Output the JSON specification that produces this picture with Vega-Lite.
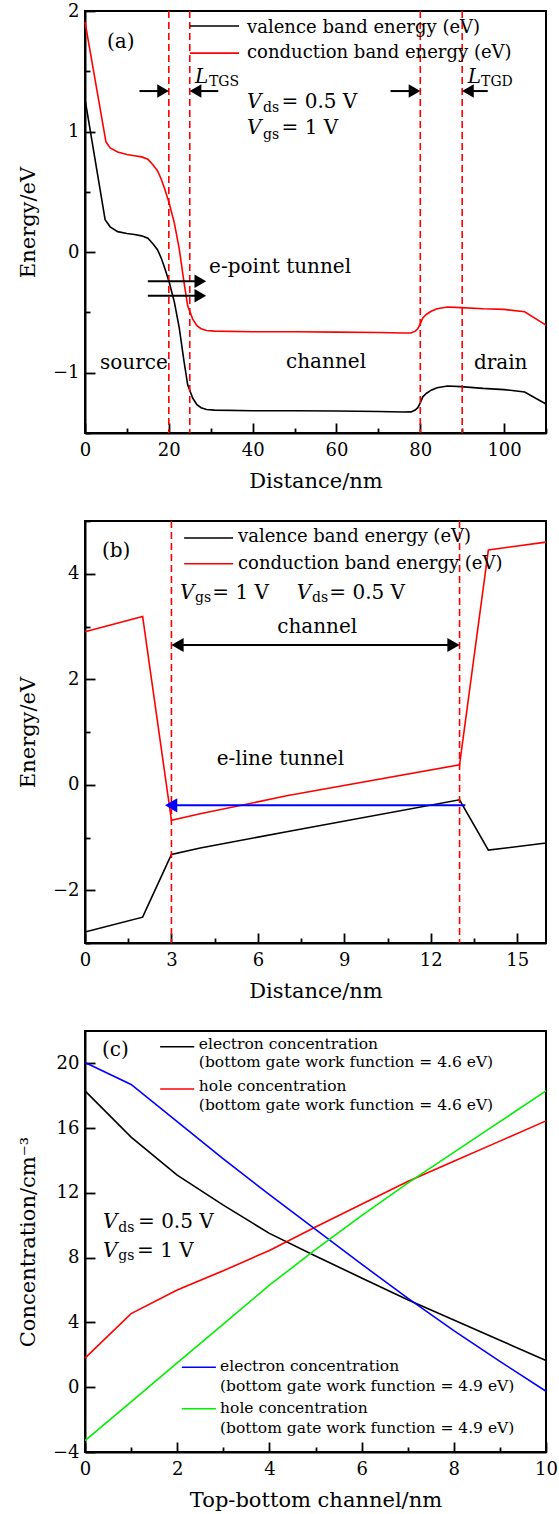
{
  "$schema": "https://vega.github.io/schema/vega-lite/v6.json",
  "background": "white",
  "padding": {"left": 16, "top": 1, "right": 0, "bottom": 0},
  "config": {
    "view": {"stroke": "black", "strokeWidth": 2},
    "axis": {
      "domainColor": "black", "domainWidth": 2,
      "tickColor": "black", "tickWidth": 1.8,
      "labelFont": "DejaVu Serif", "labelFontSize": 18, "labelColor": "black",
      "titleFont": "DejaVu Serif", "titleFontSize": 21, "titleFontWeight": "normal", "titleColor": "black",
      "grid": false, "labelFlush": false, "labelOverlap": false, "labelBound": false, "format": "d"
    },
    "text": {"font": "DejaVu Serif", "color": "black"}
  },
  "resolve": {"scale": {"color": "independent", "shape": "independent"}},
  "datasets": {
    "a_bands": [
      {"x": 0, "y": 1.27, "band": "valence"}, {"x": 4.8, "y": 0.27, "band": "valence"}, {"x": 6, "y": 0.21, "band": "valence"},
      {"x": 7.8, "y": 0.17, "band": "valence"}, {"x": 10, "y": 0.155, "band": "valence"}, {"x": 11.8, "y": 0.147, "band": "valence"},
      {"x": 13.5, "y": 0.135, "band": "valence"}, {"x": 15, "y": 0.115, "band": "valence"}, {"x": 16.2, "y": 0.07, "band": "valence"},
      {"x": 17.3, "y": 0.02, "band": "valence"}, {"x": 18.2, "y": -0.05, "band": "valence"}, {"x": 19, "y": -0.13, "band": "valence"},
      {"x": 20.1, "y": -0.25, "band": "valence"}, {"x": 21.3, "y": -0.41, "band": "valence"}, {"x": 22.5, "y": -0.63, "band": "valence"},
      {"x": 23.6, "y": -0.9, "band": "valence"}, {"x": 24.5, "y": -1.1, "band": "valence"}, {"x": 25.7, "y": -1.21, "band": "valence"},
      {"x": 26.7, "y": -1.265, "band": "valence"}, {"x": 27.7, "y": -1.29, "band": "valence"}, {"x": 29, "y": -1.305, "band": "valence"},
      {"x": 30.9, "y": -1.31, "band": "valence"}, {"x": 40, "y": -1.315, "band": "valence"}, {"x": 50, "y": -1.315, "band": "valence"},
      {"x": 60, "y": -1.318, "band": "valence"}, {"x": 70, "y": -1.322, "band": "valence"}, {"x": 76, "y": -1.326, "band": "valence"},
      {"x": 77.8, "y": -1.325, "band": "valence"}, {"x": 78.8, "y": -1.31, "band": "valence"}, {"x": 79.4, "y": -1.29, "band": "valence"},
      {"x": 80.0, "y": -1.25, "band": "valence"}, {"x": 80.6, "y": -1.2, "band": "valence"}, {"x": 81.5, "y": -1.17, "band": "valence"},
      {"x": 82.6, "y": -1.145, "band": "valence"}, {"x": 84, "y": -1.125, "band": "valence"}, {"x": 86.5, "y": -1.11, "band": "valence"},
      {"x": 89.7, "y": -1.115, "band": "valence"}, {"x": 95, "y": -1.13, "band": "valence"}, {"x": 100, "y": -1.14, "band": "valence"},
      {"x": 104.9, "y": -1.16, "band": "valence"}, {"x": 110, "y": -1.26, "band": "valence"},
      {"x": 0, "y": 1.91, "band": "conduction"}, {"x": 5.0, "y": 0.915, "band": "conduction"}, {"x": 6, "y": 0.865, "band": "conduction"},
      {"x": 7.8, "y": 0.83, "band": "conduction"}, {"x": 10, "y": 0.81, "band": "conduction"}, {"x": 11.8, "y": 0.8, "band": "conduction"},
      {"x": 13.5, "y": 0.79, "band": "conduction"}, {"x": 15, "y": 0.77, "band": "conduction"}, {"x": 16.2, "y": 0.725, "band": "conduction"},
      {"x": 17.3, "y": 0.675, "band": "conduction"}, {"x": 18.2, "y": 0.605, "band": "conduction"}, {"x": 19, "y": 0.525, "band": "conduction"},
      {"x": 20.1, "y": 0.405, "band": "conduction"}, {"x": 21.3, "y": 0.245, "band": "conduction"}, {"x": 22.5, "y": 0.025, "band": "conduction"},
      {"x": 23.6, "y": -0.245, "band": "conduction"}, {"x": 24.5, "y": -0.445, "band": "conduction"}, {"x": 25.7, "y": -0.555, "band": "conduction"},
      {"x": 26.7, "y": -0.61, "band": "conduction"}, {"x": 27.7, "y": -0.635, "band": "conduction"}, {"x": 29, "y": -0.65, "band": "conduction"},
      {"x": 30.9, "y": -0.655, "band": "conduction"}, {"x": 40, "y": -0.66, "band": "conduction"}, {"x": 50, "y": -0.66, "band": "conduction"},
      {"x": 60, "y": -0.663, "band": "conduction"}, {"x": 70, "y": -0.667, "band": "conduction"}, {"x": 76, "y": -0.671, "band": "conduction"},
      {"x": 77.8, "y": -0.67, "band": "conduction"}, {"x": 78.8, "y": -0.655, "band": "conduction"}, {"x": 79.4, "y": -0.635, "band": "conduction"},
      {"x": 80.0, "y": -0.595, "band": "conduction"}, {"x": 80.6, "y": -0.545, "band": "conduction"}, {"x": 81.5, "y": -0.515, "band": "conduction"},
      {"x": 82.6, "y": -0.49, "band": "conduction"}, {"x": 84, "y": -0.47, "band": "conduction"}, {"x": 86.5, "y": -0.455, "band": "conduction"},
      {"x": 89.7, "y": -0.46, "band": "conduction"}, {"x": 95, "y": -0.47, "band": "conduction"}, {"x": 100, "y": -0.475, "band": "conduction"},
      {"x": 104.9, "y": -0.495, "band": "conduction"}, {"x": 110, "y": -0.605, "band": "conduction"}
    ],
    "a_vlines": [{"x": 20}, {"x": 25}, {"x": 80}, {"x": 90}],
    "a_legline": [
      {"x": 25.06, "x2": 36.75, "y": 1.876, "band": "valence"},
      {"x": 25.06, "x2": 36.75, "y": 1.651, "band": "conduction"}
    ],
    "a_legtext": [
      {"x": 38.66, "y": 1.82, "text": "valence band energy (eV)"},
      {"x": 38.66, "y": 1.607, "text": "conduction band energy (eV)"}
    ],
    "a_text": [
      {"x": 5.25, "y": 1.693, "text": "(a)"},
      {"x": 29.6, "y": -0.172, "text": "e-point tunnel"},
      {"x": 3.58, "y": -0.973, "text": "source"},
      {"x": 47.97, "y": -0.96, "text": "channel"},
      {"x": 92.8, "y": -0.973, "text": "drain"},
      {"x": 46.9, "y": 1.197, "text": "= 0.5 V"},
      {"x": 46.9, "y": 0.977, "text": "= 1 V"}
    ],
    "a_ital": [
      {"x": 38.66, "y": 1.197, "text": "V"},
      {"x": 38.66, "y": 0.977, "text": "V"},
      {"x": 26.25, "y": 1.405, "text": "L"},
      {"x": 91.34, "y": 1.405, "text": "L"}
    ],
    "a_sub": [
      {"x": 42.48, "y": 1.162, "text": "ds"},
      {"x": 42.48, "y": 0.942, "text": "gs"},
      {"x": 29.59, "y": 1.378, "text": "TGS"},
      {"x": 94.5, "y": 1.378, "text": "TGD"}
    ],
    "a_shafts": [
      {"x": 13.0, "x2": 19.0, "y": 1.336},
      {"x": 31.8, "x2": 26.0, "y": 1.336},
      {"x": 72.9, "x2": 79.0, "y": 1.336},
      {"x": 96.1, "x2": 91.0, "y": 1.336},
      {"x": 15.0, "x2": 27.5, "y": -0.241},
      {"x": 15.0, "x2": 27.5, "y": -0.362}
    ],
    "a_heads": [
      {"x": 18.62, "y": 1.336, "dir": "right"},
      {"x": 26.38, "y": 1.336, "dir": "left"},
      {"x": 78.62, "y": 1.336, "dir": "right"},
      {"x": 91.38, "y": 1.336, "dir": "left"},
      {"x": 27.52, "y": -0.241, "dir": "right"},
      {"x": 27.52, "y": -0.362, "dir": "right"}
    ],
    "b_bands": [
      {"x": 0, "y": -2.79, "band": "valence"}, {"x": 2, "y": -2.51, "band": "valence"}, {"x": 3, "y": -1.32, "band": "valence"},
      {"x": 4, "y": -1.2, "band": "valence"}, {"x": 7, "y": -0.89, "band": "valence"}, {"x": 13, "y": -0.285, "band": "valence"},
      {"x": 14, "y": -1.24, "band": "valence"}, {"x": 16, "y": -1.105, "band": "valence"},
      {"x": 0, "y": 2.9, "band": "conduction"}, {"x": 2, "y": 3.19, "band": "conduction"}, {"x": 3, "y": -0.675, "band": "conduction"},
      {"x": 4, "y": -0.55, "band": "conduction"}, {"x": 7, "y": -0.21, "band": "conduction"}, {"x": 13, "y": 0.38, "band": "conduction"},
      {"x": 14, "y": 4.45, "band": "conduction"}, {"x": 16, "y": 4.6, "band": "conduction"}
    ],
    "b_vlines": [{"x": 3}, {"x": 13}],
    "b_legline": [
      {"x": 3.44, "x2": 5.14, "y": 4.677, "band": "valence"},
      {"x": 3.44, "x2": 5.14, "y": 4.19, "band": "conduction"}
    ],
    "b_legtext": [
      {"x": 5.31, "y": 4.6, "text": "valence band energy (eV)"},
      {"x": 5.31, "y": 4.095, "text": "conduction band energy (eV)"}
    ],
    "b_text": [
      {"x": 0.59, "y": 4.317, "text": "(b)"},
      {"x": 4.42, "y": 3.526, "text": "= 1 V"},
      {"x": 8.48, "y": 3.526, "text": "= 0.5 V"},
      {"x": 6.67, "y": 2.88, "text": "channel"},
      {"x": 4.57, "y": 0.379, "text": "e-line tunnel"}
    ],
    "b_ital": [
      {"x": 3.3, "y": 3.526, "text": "V"},
      {"x": 7.35, "y": 3.526, "text": "V"}
    ],
    "b_sub": [
      {"x": 3.82, "y": 3.46, "text": "gs"},
      {"x": 7.88, "y": 3.46, "text": "ds"}
    ],
    "b_shafts": [{"x": 3.2, "x2": 12.8, "y": 2.65}],
    "b_heads": [
      {"x": 3.21, "y": 2.65, "dir": "left"},
      {"x": 12.79, "y": 2.65, "dir": "right"}
    ],
    "b_tunnel": [{"x": 13.2, "x2": 3.0, "y": -0.39}],
    "b_tunnelhead": [{"x": 2.99, "y": -0.39, "dir": "left"}],
    "c_lines": [
      {"x": 0, "y": 18.3, "s": "e46"}, {"x": 1, "y": 15.45, "s": "e46"}, {"x": 2, "y": 13.1, "s": "e46"}, {"x": 3, "y": 11.25, "s": "e46"},
      {"x": 4, "y": 9.5, "s": "e46"}, {"x": 5, "y": 8.1, "s": "e46"}, {"x": 6, "y": 6.75, "s": "e46"}, {"x": 7, "y": 5.4, "s": "e46"},
      {"x": 8, "y": 4.15, "s": "e46"}, {"x": 9, "y": 2.9, "s": "e46"}, {"x": 10, "y": 1.65, "s": "e46"},
      {"x": 0, "y": 1.8, "s": "h46"}, {"x": 1, "y": 4.55, "s": "h46"}, {"x": 2, "y": 6.0, "s": "h46"}, {"x": 3, "y": 7.2, "s": "h46"},
      {"x": 4, "y": 8.45, "s": "h46"}, {"x": 5, "y": 9.9, "s": "h46"}, {"x": 6, "y": 11.3, "s": "h46"}, {"x": 7, "y": 12.7, "s": "h46"},
      {"x": 8, "y": 13.95, "s": "h46"}, {"x": 9, "y": 15.2, "s": "h46"}, {"x": 10, "y": 16.45, "s": "h46"},
      {"x": 0, "y": 20.05, "s": "e49"}, {"x": 1, "y": 18.7, "s": "e49"}, {"x": 2, "y": 16.4, "s": "e49"}, {"x": 3, "y": 14.1, "s": "e49"},
      {"x": 4, "y": 11.9, "s": "e49"}, {"x": 5, "y": 9.75, "s": "e49"}, {"x": 6, "y": 7.6, "s": "e49"}, {"x": 7, "y": 5.5, "s": "e49"},
      {"x": 8, "y": 3.5, "s": "e49"}, {"x": 9, "y": 1.6, "s": "e49"}, {"x": 10, "y": -0.25, "s": "e49"},
      {"x": 0, "y": -3.3, "s": "h49"}, {"x": 1, "y": -0.9, "s": "h49"}, {"x": 2, "y": 1.5, "s": "h49"}, {"x": 3, "y": 3.9, "s": "h49"},
      {"x": 4, "y": 6.3, "s": "h49"}, {"x": 5, "y": 8.5, "s": "h49"}, {"x": 6, "y": 10.6, "s": "h49"}, {"x": 7, "y": 12.6, "s": "h49"},
      {"x": 8, "y": 14.5, "s": "h49"}, {"x": 9, "y": 16.4, "s": "h49"}, {"x": 10, "y": 18.3, "s": "h49"}
    ],
    "c_legline": [
      {"x": 1.63, "x2": 2.37, "y": 21.03, "s": "e46"},
      {"x": 1.63, "x2": 2.37, "y": 18.42, "s": "h46"},
      {"x": 2.1, "x2": 2.84, "y": 1.23, "s": "e49"},
      {"x": 2.1, "x2": 2.84, "y": -1.33, "s": "h49"}
    ],
    "c_legtext": [
      {"x": 2.47, "y": 20.89, "text": "electron concentration"},
      {"x": 2.47, "y": 19.75, "text": "(bottom gate work function = 4.6 eV)"},
      {"x": 2.47, "y": 18.28, "text": "hole concentration"},
      {"x": 2.47, "y": 17.15, "text": "(bottom gate work function = 4.6 eV)"},
      {"x": 2.93, "y": 0.985, "text": "electron concentration"},
      {"x": 2.93, "y": -0.246, "text": "(bottom gate work function = 4.9 eV)"},
      {"x": 2.93, "y": -1.62, "text": "hole concentration"},
      {"x": 2.93, "y": -2.81, "text": "(bottom gate work function = 4.9 eV)"}
    ],
    "c_text": [
      {"x": 0.37, "y": 20.47, "text": "(c)"},
      {"x": 1.15, "y": 9.81, "text": "= 0.5 V"},
      {"x": 1.13, "y": 8.06, "text": "= 1 V"}
    ],
    "c_ital": [
      {"x": 0.39, "y": 9.81, "text": "V"},
      {"x": 0.39, "y": 8.06, "text": "V"}
    ],
    "c_sub": [
      {"x": 0.72, "y": 9.58, "text": "ds"},
      {"x": 0.72, "y": 7.86, "text": "gs"}
    ]
  },
  "spacing": 88,
  "bounds": "flush",
  "vconcat": [
    {
      "width": 461, "height": 422,
      "layer": [
        {
          "data": {"name": "a_bands"},
          "mark": {"type": "line", "strokeWidth": 1.6},
          "encoding": {
            "x": {"field": "x", "type": "quantitative", "scale": {"domain": [0, 110], "nice": false, "zero": false},
                  "axis": {"title": "Distance/nm", "values": [0, 10, 20, 30, 40, 50, 60, 70, 80, 90, 100, 110],
                           "labelExpr": "datum.value % 20 === 0 ? datum.label : ''",
                           "tickSize": {"condition": {"test": "datum.value % 20 === 0", "value": -10}, "value": -5},
                           "labelPadding": 18, "titlePadding": 6}},
            "y": {"field": "y", "type": "quantitative", "scale": {"domain": [-1.5, 2], "nice": false, "zero": false},
                  "axis": {"title": "Energy/eV", "values": [-1.5, -1, -0.5, 0, 0.5, 1, 1.5, 2],
                           "labelExpr": "datum.value % 1 === 0 ? datum.label : ''",
                           "tickSize": {"condition": {"test": "datum.value % 1 === 0", "value": -10}, "value": -5},
                           "labelPadding": 16, "titlePadding": 14}},
            "color": {"field": "band", "type": "nominal", "scale": {"domain": ["valence", "conduction"], "range": ["#000000", "#ff0000"]}, "legend": null}
          }
        },
        {
          "data": {"name": "a_vlines"},
          "mark": {"type": "rule", "color": "#ff0000", "strokeDash": [7, 4], "strokeWidth": 1.6},
          "encoding": {"x": {"field": "x", "type": "quantitative"}}
        },
        {
          "data": {"name": "a_legline"},
          "mark": {"type": "rule", "strokeWidth": 1.6},
          "encoding": {
            "x": {"field": "x", "type": "quantitative"},
            "x2": {"field": "x2"},
            "y": {"field": "y", "type": "quantitative"},
            "color": {"field": "band", "type": "nominal", "legend": null}
          }
        },
        {
          "data": {"name": "a_shafts"},
          "mark": {"type": "rule", "strokeWidth": 2, "color": "black"},
          "encoding": {
            "x": {"field": "x", "type": "quantitative"},
            "x2": {"field": "x2"},
            "y": {"field": "y", "type": "quantitative"}
          }
        },
        {
          "data": {"name": "a_heads"},
          "mark": {"type": "point", "filled": true, "color": "black", "size": 180, "opacity": 1, "strokeWidth": 0},
          "encoding": {
            "x": {"field": "x", "type": "quantitative"},
            "y": {"field": "y", "type": "quantitative"},
            "shape": {"field": "dir", "type": "nominal", "scale": {"domain": ["right", "left"], "range": ["triangle-right", "triangle-left"]}, "legend": null}
          }
        },
        {
          "data": {"name": "a_legtext"},
          "mark": {"type": "text", "align": "left", "baseline": "alphabetic", "fontSize": 18},
          "encoding": {
            "x": {"field": "x", "type": "quantitative"},
            "y": {"field": "y", "type": "quantitative"},
            "text": {"field": "text", "type": "nominal"}
          }
        },
        {
          "data": {"name": "a_text"},
          "mark": {"type": "text", "align": "left", "baseline": "alphabetic", "fontSize": 20},
          "encoding": {
            "x": {"field": "x", "type": "quantitative"},
            "y": {"field": "y", "type": "quantitative"},
            "text": {"field": "text", "type": "nominal"}
          }
        },
        {
          "data": {"name": "a_ital"},
          "mark": {"type": "text", "align": "left", "baseline": "alphabetic", "fontSize": 20, "fontStyle": "italic"},
          "encoding": {
            "x": {"field": "x", "type": "quantitative"},
            "y": {"field": "y", "type": "quantitative"},
            "text": {"field": "text", "type": "nominal"}
          }
        },
        {
          "data": {"name": "a_sub"},
          "mark": {"type": "text", "align": "left", "baseline": "alphabetic", "fontSize": 14},
          "encoding": {
            "x": {"field": "x", "type": "quantitative"},
            "y": {"field": "y", "type": "quantitative"},
            "text": {"field": "text", "type": "nominal"}
          }
        }
      ]
    },
    {
      "width": 461, "height": 422,
      "layer": [
        {
          "data": {"name": "b_bands"},
          "mark": {"type": "line", "strokeWidth": 1.6},
          "encoding": {
            "x": {"field": "x", "type": "quantitative", "scale": {"domain": [0, 16], "nice": false, "zero": false},
                  "axis": {"title": "Distance/nm", "values": [0, 1.5, 3, 4.5, 6, 7.5, 9, 10.5, 12, 13.5, 15],
                           "labelExpr": "datum.value % 3 === 0 ? datum.label : ''",
                           "tickSize": {"condition": {"test": "datum.value % 3 === 0", "value": -10}, "value": -5},
                           "labelPadding": 18, "titlePadding": 6}},
            "y": {"field": "y", "type": "quantitative", "scale": {"domain": [-3, 5], "nice": false, "zero": false},
                  "axis": {"title": "Energy/eV", "values": [-3, -2, -1, 0, 1, 2, 3, 4, 5],
                           "labelExpr": "datum.value % 2 === 0 ? datum.label : ''",
                           "tickSize": {"condition": {"test": "datum.value % 2 === 0", "value": -10}, "value": -5},
                           "labelPadding": 16, "titlePadding": 14}},
            "color": {"field": "band", "type": "nominal", "scale": {"domain": ["valence", "conduction"], "range": ["#000000", "#ff0000"]}, "legend": null}
          }
        },
        {
          "data": {"name": "b_vlines"},
          "mark": {"type": "rule", "color": "#ff0000", "strokeDash": [7, 4], "strokeWidth": 1.6},
          "encoding": {"x": {"field": "x", "type": "quantitative"}}
        },
        {
          "data": {"name": "b_legline"},
          "mark": {"type": "rule", "strokeWidth": 1.6},
          "encoding": {
            "x": {"field": "x", "type": "quantitative"},
            "x2": {"field": "x2"},
            "y": {"field": "y", "type": "quantitative"},
            "color": {"field": "band", "type": "nominal", "legend": null}
          }
        },
        {
          "data": {"name": "b_shafts"},
          "mark": {"type": "rule", "strokeWidth": 2, "color": "black"},
          "encoding": {
            "x": {"field": "x", "type": "quantitative"},
            "x2": {"field": "x2"},
            "y": {"field": "y", "type": "quantitative"}
          }
        },
        {
          "data": {"name": "b_heads"},
          "mark": {"type": "point", "filled": true, "color": "black", "size": 200, "opacity": 1, "strokeWidth": 0},
          "encoding": {
            "x": {"field": "x", "type": "quantitative"},
            "y": {"field": "y", "type": "quantitative"},
            "shape": {"field": "dir", "type": "nominal", "scale": {"domain": ["right", "left"], "range": ["triangle-right", "triangle-left"]}, "legend": null}
          }
        },
        {
          "data": {"name": "b_tunnel"},
          "mark": {"type": "rule", "strokeWidth": 2, "color": "#0000ff"},
          "encoding": {
            "x": {"field": "x", "type": "quantitative"},
            "x2": {"field": "x2"},
            "y": {"field": "y", "type": "quantitative"}
          }
        },
        {
          "data": {"name": "b_tunnelhead"},
          "mark": {"type": "point", "filled": true, "color": "#0000ff", "size": 200, "opacity": 1, "strokeWidth": 0, "shape": "triangle-left"},
          "encoding": {
            "x": {"field": "x", "type": "quantitative"},
            "y": {"field": "y", "type": "quantitative"}
          }
        },
        {
          "data": {"name": "b_legtext"},
          "mark": {"type": "text", "align": "left", "baseline": "alphabetic", "fontSize": 18},
          "encoding": {
            "x": {"field": "x", "type": "quantitative"},
            "y": {"field": "y", "type": "quantitative"},
            "text": {"field": "text", "type": "nominal"}
          }
        },
        {
          "data": {"name": "b_text"},
          "mark": {"type": "text", "align": "left", "baseline": "alphabetic", "fontSize": 20},
          "encoding": {
            "x": {"field": "x", "type": "quantitative"},
            "y": {"field": "y", "type": "quantitative"},
            "text": {"field": "text", "type": "nominal"}
          }
        },
        {
          "data": {"name": "b_ital"},
          "mark": {"type": "text", "align": "left", "baseline": "alphabetic", "fontSize": 20, "fontStyle": "italic"},
          "encoding": {
            "x": {"field": "x", "type": "quantitative"},
            "y": {"field": "y", "type": "quantitative"},
            "text": {"field": "text", "type": "nominal"}
          }
        },
        {
          "data": {"name": "b_sub"},
          "mark": {"type": "text", "align": "left", "baseline": "alphabetic", "fontSize": 14},
          "encoding": {
            "x": {"field": "x", "type": "quantitative"},
            "y": {"field": "y", "type": "quantitative"},
            "text": {"field": "text", "type": "nominal"}
          }
        }
      ]
    },
    {
      "width": 461, "height": 421,
      "layer": [
        {
          "data": {"name": "c_lines"},
          "mark": {"type": "line", "strokeWidth": 1.6},
          "encoding": {
            "x": {"field": "x", "type": "quantitative", "scale": {"domain": [0, 10], "nice": false, "zero": false},
                  "axis": {"title": "Top-bottom channel/nm", "values": [0, 1, 2, 3, 4, 5, 6, 7, 8, 9, 10],
                           "labelExpr": "datum.value % 2 === 0 ? datum.label : ''",
                           "tickSize": {"condition": {"test": "datum.value % 2 === 0", "value": -10}, "value": -5},
                           "labelPadding": 18, "titlePadding": 6}},
            "y": {"field": "y", "type": "quantitative", "scale": {"domain": [-4, 22], "nice": false, "zero": false},
                  "axis": {"title": "Concentration/cm⁻³", "values": [-4, -2, 0, 2, 4, 6, 8, 10, 12, 14, 16, 18, 20, 22],
                           "labelExpr": "datum.value % 4 === 0 ? datum.label : ''",
                           "tickSize": {"condition": {"test": "datum.value % 4 === 0", "value": -10}, "value": -5},
                           "labelPadding": 16, "titlePadding": 14}},
            "color": {"field": "s", "type": "nominal", "scale": {"domain": ["e46", "h46", "e49", "h49"], "range": ["#000000", "#ff0000", "#0000ff", "#00ee00"]}, "legend": null}
          }
        },
        {
          "data": {"name": "c_legline"},
          "mark": {"type": "rule", "strokeWidth": 1.6},
          "encoding": {
            "x": {"field": "x", "type": "quantitative"},
            "x2": {"field": "x2"},
            "y": {"field": "y", "type": "quantitative"},
            "color": {"field": "s", "type": "nominal", "legend": null}
          }
        },
        {
          "data": {"name": "c_legtext"},
          "mark": {"type": "text", "align": "left", "baseline": "alphabetic", "fontSize": 15.5},
          "encoding": {
            "x": {"field": "x", "type": "quantitative"},
            "y": {"field": "y", "type": "quantitative"},
            "text": {"field": "text", "type": "nominal"}
          }
        },
        {
          "data": {"name": "c_text"},
          "mark": {"type": "text", "align": "left", "baseline": "alphabetic", "fontSize": 20},
          "encoding": {
            "x": {"field": "x", "type": "quantitative"},
            "y": {"field": "y", "type": "quantitative"},
            "text": {"field": "text", "type": "nominal"}
          }
        },
        {
          "data": {"name": "c_ital"},
          "mark": {"type": "text", "align": "left", "baseline": "alphabetic", "fontSize": 20, "fontStyle": "italic"},
          "encoding": {
            "x": {"field": "x", "type": "quantitative"},
            "y": {"field": "y", "type": "quantitative"},
            "text": {"field": "text", "type": "nominal"}
          }
        },
        {
          "data": {"name": "c_sub"},
          "mark": {"type": "text", "align": "left", "baseline": "alphabetic", "fontSize": 14},
          "encoding": {
            "x": {"field": "x", "type": "quantitative"},
            "y": {"field": "y", "type": "quantitative"},
            "text": {"field": "text", "type": "nominal"}
          }
        }
      ]
    }
  ]
}
